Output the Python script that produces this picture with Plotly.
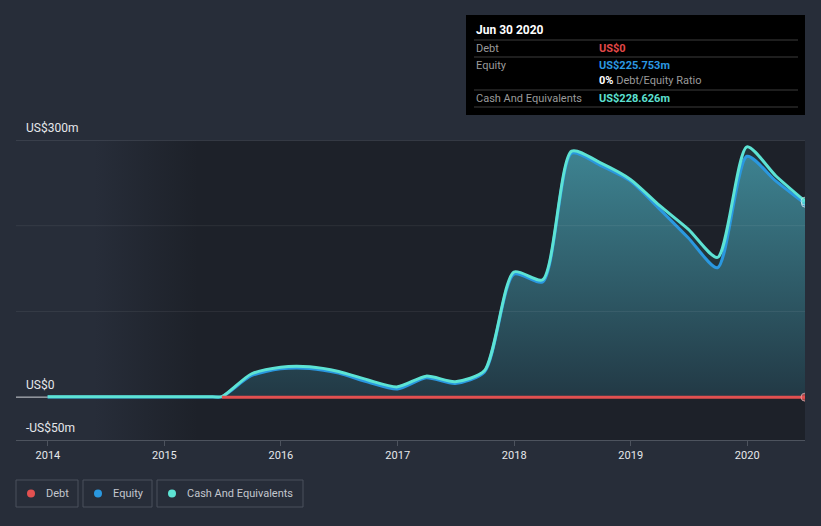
import plotly.graph_objects as go

# ---------------- data ----------------
dates = ["2013-12-31", "2014-06-30", "2014-12-31", "2015-06-01", "2015-06-30", "2015-09-30",
         "2015-12-31", "2016-03-31", "2016-06-30", "2016-09-30", "2016-12-31",
         "2017-03-31", "2017-06-30", "2017-09-30", "2017-12-31", "2018-03-31",
         "2018-06-30", "2018-09-30", "2018-12-31", "2019-03-31", "2019-06-30",
         "2019-09-30", "2019-12-31", "2020-03-31", "2020-06-30"]
cash = [0.4, 0.4, 0.4, 0.4, 0.6, 27, 35, 35.5, 30, 20, 12,
        24.5, 18, 31, 146, 137, 287, 273, 254, 224, 196,
        163, 292, 258, 228.626]
equity = [0.2, 0.2, 0.2, 0.2, 0.4, 25, 33, 33.5, 28, 17.5, 9.5,
          22.5, 16, 29.5, 143.5, 134.5, 284.5, 270, 252, 220, 186,
          151, 281, 252, 225.753]
debt_dates = dates[4:]
debt = [0.0] * len(debt_dates)

year_ticks = ["2014-01-01", "2015-01-01", "2016-01-01", "2017-01-01",
              "2018-01-01", "2019-01-01", "2020-01-01"]
year_labels = ["2014", "2015", "2016", "2017", "2018", "2019", "2020"]
y_label_vals = [300, 0, -50]
y_label_text = ["US$300m", "US$0", "-US$50m"]
grid_vals = [100, 200]
x_start, x_end = "2013-09-23", "2020-06-30"

BG = "#272d39"
DARK = "#1d2129"
TEAL = "#5de3d4"
BLUE = "#2a98e0"
RED = "#e25050"
FONT = "Roboto"

W, H = 821, 526
L, R, T, B = 16, 16, 140, 86
PW, PH = W - L - R, H - T - B


def px(x):
    return (x - L) / PW


def py(y):
    return (H - B - y) / PH


fig = go.Figure()

# background panel with soft horizontal fade
fig.add_trace(go.Scatter(
    x=[x_start, x_end, x_end, x_start, x_start], y=[300, 300, -50, -50, 300],
    mode="none", fill="toself",
    fillgradient=dict(type="horizontal",
                      colorscale=[[0, BG], [0.1, BG], [0.23, DARK], [1, DARK]]),
    hoverinfo="skip", showlegend=False))

fig.add_trace(go.Scatter(
    x=dates, y=equity, name="Equity", mode="lines+markers",
    line=dict(color=BLUE, width=3, shape="spline", smoothing=0.7),
    marker=dict(size=[0] * (len(dates) - 1) + [7], color=BLUE),
    fill="tozeroy",
    fillgradient=dict(type="vertical", start=0, stop=300,
                      colorscale=[[0, "#223945"], [1, "#3f8795"]]),
    hoverinfo="skip"))
fig.add_trace(go.Scatter(
    x=dates, y=cash, name="Cash And Equivalents", mode="lines+markers",
    line=dict(color=TEAL, width=3, shape="spline", smoothing=0.7),
    marker=dict(size=[0] * (len(dates) - 1) + [8], color=TEAL,
                line=dict(color="#d8f5f2", width=1)),
    fill="tonexty", fillcolor="rgba(40,70,72,0.55)",
    hoverinfo="skip"))
fig.add_trace(go.Scatter(
    x=debt_dates, y=debt, name="Debt", mode="lines+markers",
    line=dict(color=RED, width=3),
    marker=dict(size=[0] * (len(debt_dates) - 1) + [8], color=RED,
                line=dict(color="#f3c0c0", width=1)),
    hoverinfo="skip"))

shapes = []
annotations = []

# gridlines
for g in grid_vals:
    shapes.append(dict(type="line", xref="paper", yref="y", x0=0, x1=1, y0=g, y1=g,
                       line=dict(color="rgba(255,255,255,0.07)", width=1), layer="above"))
shapes.append(dict(type="line", xref="paper", yref="y", x0=0, x1=1, y0=300, y1=300,
                   line=dict(color="#4d535e", width=1), layer="above"))
shapes.append(dict(type="line", xref="x", yref="y", x0=x_start, x1=dates[0], y0=0, y1=0,
                   line=dict(color="#d0d3d8", width=1), layer="above"))

for v, t in zip(y_label_vals, y_label_text):
    annotations.append(dict(xref="paper", yref="y", x=px(24), y=v, text=t,
                            showarrow=False, xanchor="left", yanchor="bottom", yshift=3,
                            font=dict(family=FONT, size=12, color="#e6e8eb")))

# tooltip box
shapes.append(dict(type="rect", xref="paper", yref="paper", x0=px(466), x1=px(805),
                   y0=py(115), y1=py(15), fillcolor="#000000", line=dict(width=0)))
for ly in [40, 57, 90, 107]:
    shapes.append(dict(type="line", xref="paper", yref="paper", x0=px(474), x1=px(798),
                       y0=py(ly), y1=py(ly), line=dict(color="#3c3c3c", width=1)))


def tip(x, y, text, color, size=11):
    annotations.append(dict(xref="paper", yref="paper", x=px(x), y=py(y), text=text,
                            showarrow=False, xanchor="left", yanchor="middle",
                            font=dict(family=FONT, size=size, color=color)))


tip(474, 30, "<b>Jun 30 2020</b>", "#ffffff", 12)
tip(474, 48, "Debt", "#9a9a9a")
tip(597, 48, "<b>US$0</b>", "#e24848")
tip(474, 65, "Equity", "#9a9a9a")
tip(597, 65, "<b>US$225.753m</b>", "#2b98e2")
tip(597, 81, "<b><span style='color:#ffffff'>0%</span></b> Debt/Equity Ratio", "#9a9a9a")
tip(474, 98, "Cash And Equivalents", "#9a9a9a")
tip(597, 98, "<b>US$228.626m</b>", "#5de0d2")

# legend boxes
legend_items = [("Debt", RED, 16, 78), ("Equity", BLUE, 83, 152),
                ("Cash And Equivalents", TEAL, 157, 303)]
for name, col, x0, x1 in legend_items:
    shapes.append(dict(type="rect", xref="paper", yref="paper", x0=px(x0), x1=px(x1),
                       y0=py(507), y1=py(480), line=dict(color="#4b515c", width=1),
                       fillcolor="rgba(0,0,0,0)"))
    shapes.append(dict(type="circle", xref="paper", yref="paper",
                       x0=px(x0 + 11), x1=px(x0 + 19), y0=py(497.5), y1=py(489.5),
                       fillcolor=col, line=dict(width=0)))
    annotations.append(dict(xref="paper", yref="paper", x=px(x0 + 28), y=py(493.5),
                            text=name, showarrow=False, xanchor="left", yanchor="middle",
                            font=dict(family=FONT, size=11, color="#c3c7ce")))

fig.update_layout(
    width=W, height=H,
    margin=dict(l=L, r=R, t=T, b=B),
    paper_bgcolor=BG, plot_bgcolor=BG,
    showlegend=False, hovermode=False,
    shapes=shapes, annotations=annotations,
    xaxis=dict(type="date", range=[x_start, x_end],
               tickvals=year_ticks, ticktext=year_labels,
               showgrid=False, zeroline=False,
               showline=True, linecolor="#4d535e", linewidth=1,
               ticks="outside", ticklen=5, tickcolor="#4d535e",
               tickfont=dict(family=FONT, size=11, color="#e6e8eb")),
    yaxis=dict(range=[-50, 300], showgrid=False, zeroline=False,
               showticklabels=False, showline=False, fixedrange=True),
)

fig.write_html("out.html", config={"displayModeBar": False},
               post_script="document.body.style.margin='0';document.body.style.background='" + BG + "';")
